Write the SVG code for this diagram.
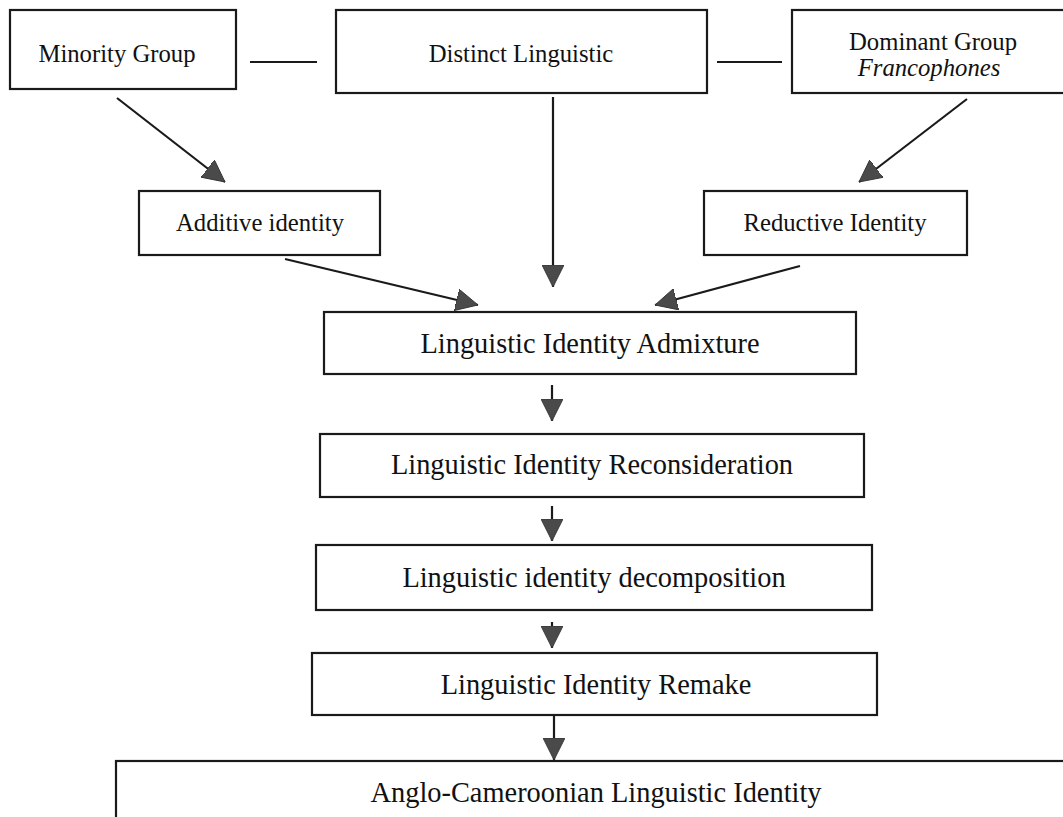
<svg xmlns="http://www.w3.org/2000/svg" width="1063" height="817" viewBox="0 0 1063 817">
<style>
.box{fill:#fff;stroke:#1a1a1a;stroke-width:2.2}
.t{font-family:"Liberation Serif","Times New Roman",serif;fill:#111;text-anchor:middle}
.s{font-size:24.7px}
.m{font-size:28.4px}
.c{fill:none;stroke:#1a1a1a;stroke-width:2.2}
</style>
<defs>
<marker id="ah" markerUnits="userSpaceOnUse" markerWidth="22" markerHeight="22" refX="20" refY="10" orient="auto" viewBox="0 0 20 20">
<path d="M0,0 L20,10 L0,20 z" fill="#4a4a4a" stroke="#333" stroke-width="0.8"/>
</marker>
</defs>
<rect width="1063" height="817" fill="#fff"/>
<g id="connectors">
<line class="c" x1="250" y1="62" x2="317" y2="62"/>
<line class="c" x1="717" y1="62" x2="782" y2="62"/>
<line class="c" x1="117" y1="98" x2="225" y2="182" marker-end="url(#ah)"/>
<line class="c" x1="967" y1="99" x2="859" y2="182" marker-end="url(#ah)"/>
<line class="c" x1="553" y1="97" x2="553" y2="287" marker-end="url(#ah)"/>
<line class="c" x1="285" y1="259" x2="478" y2="305" marker-end="url(#ah)"/>
<line class="c" x1="800" y1="266" x2="655" y2="305" marker-end="url(#ah)"/>
<line class="c" x1="552" y1="385" x2="552" y2="421" marker-end="url(#ah)"/>
<line class="c" x1="552" y1="506" x2="552" y2="541" marker-end="url(#ah)"/>
<line class="c" x1="552" y1="622" x2="552" y2="648" marker-end="url(#ah)"/>
<line class="c" x1="554" y1="715" x2="554" y2="760" marker-end="url(#ah)"/>
</g>
<g id="minority">
<rect class="box" x="10" y="10" width="226" height="79"/>
<text class="t s" x="117" y="62">Minority Group</text>
</g>
<g id="distinct">
<rect class="box" x="336" y="10" width="371" height="83"/>
<text class="t s" x="521" y="62">Distinct Linguistic</text>
</g>
<g id="dominant">
<rect class="box" x="792" y="10" width="280" height="83"/>
<text class="t s" x="933" y="50">Dominant Group</text>
<text class="t s" x="929" y="76" font-style="italic">Francophones</text>
</g>
<g id="additive">
<rect class="box" x="139" y="191" width="241" height="64"/>
<text class="t s" x="260" y="231">Additive identity</text>
</g>
<g id="reductive">
<rect class="box" x="704" y="191" width="263" height="64"/>
<text class="t s" x="835" y="231">Reductive Identity</text>
</g>
<g id="admixture">
<rect class="box" x="324" y="312" width="532" height="62"/>
<text class="t m" x="590" y="353">Linguistic Identity Admixture</text>
</g>
<g id="reconsideration">
<rect class="box" x="320" y="434" width="544" height="63"/>
<text class="t m" x="592" y="474">Linguistic Identity Reconsideration</text>
</g>
<g id="decomposition">
<rect class="box" x="316" y="545" width="556" height="65"/>
<text class="t m" x="594" y="587">Linguistic identity decomposition</text>
</g>
<g id="remake">
<rect class="box" x="312" y="653" width="565" height="62"/>
<text class="t m" x="596" y="694">Linguistic Identity Remake</text>
</g>
<g id="anglo">
<rect class="box" x="116" y="761" width="960" height="70"/>
<text class="t m" x="596" y="802">Anglo-Cameroonian Linguistic Identity</text>
</g>
</svg>
